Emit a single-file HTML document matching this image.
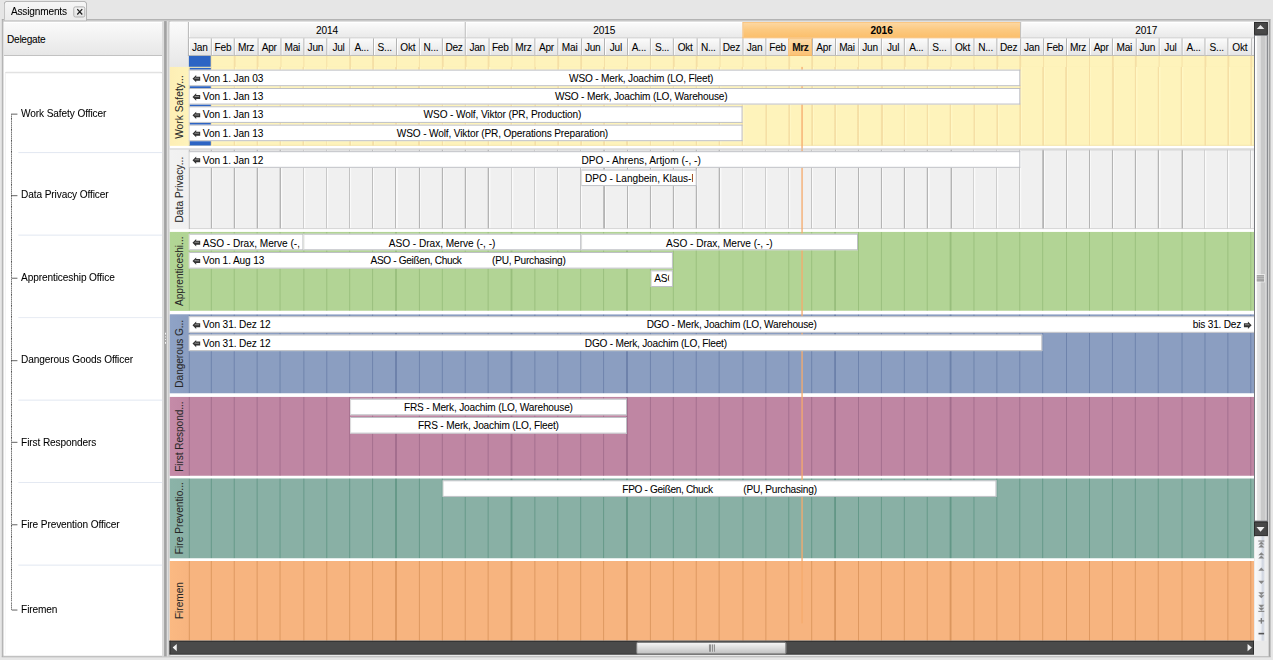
<!DOCTYPE html>
<html><head><meta charset="utf-8"><title>Assignments</title>
<style>
html,body{margin:0;padding:0}
body{width:1273px;height:660px;overflow:hidden;position:relative;background:#e6e6e6;font-family:"Liberation Sans",sans-serif;font-size:10.1px;color:#000;-webkit-text-stroke:0.1px rgba(0,0,0,.5);letter-spacing:-0.158px}
div,span{box-sizing:border-box}
#root{position:absolute;left:0;top:0;width:1273px;height:660px;zoom:1.0909091;transform:scale(.9166667);transform-origin:0 0}
.abs{position:absolute}
#tab{position:absolute;left:4px;top:1px;width:83.3px;height:20px;border:1px solid #a9a9a9;border-bottom:none;border-radius:4px 4px 0 0;background:linear-gradient(#f6f6f6,#ebebeb)}
#tab .t{position:absolute;left:6px;top:3px;line-height:13px;letter-spacing:-0.159px}
#tab .x{position:absolute;left:68px;top:4.3px;width:12.6px;height:10.8px;border:1px solid #aaa;border-radius:2px;background:linear-gradient(#f4f4f4,#e2e2e2)}
#panel{position:absolute;left:2px;top:19px;width:1268.1px;height:638px;border:1px solid #a3a3a3;border-right:1.9px solid #a4a4a4;border-bottom:1.8px solid #adadad;background:#e9e9e9;box-shadow:inset 1px 1px 0 #c6c6c6}
#left{position:absolute;left:4px;top:22px;width:158px;height:633px;background:#fff}
#lhead{position:absolute;left:0;top:0;width:158px;height:34px;background:linear-gradient(#fafafa,#e7e7e7);border-bottom:1px solid #bdbdbd;border-top:1px solid #fff}
#lhead span{position:absolute;left:3px;top:10px;line-height:13px;letter-spacing:-0.25px}
#tree{position:absolute;left:0.5px;top:49.6px;width:157.5px;height:583px;border-top:1.6px solid #c9c9c9;border-left:1px solid #e4e4e4;border-radius:2px 2px 0 0;box-shadow:inset 0 1px 0 #f0f0f0}
.ti{position:absolute;left:15.7px;line-height:13px;white-space:nowrap;letter-spacing:-0.1px}
.tsep{position:absolute;left:13px;width:144px;height:1px;background:#dfe5f0}
.tick{position:absolute;left:6.2px;width:6.2px;height:0.92px;background:#555}
#split{position:absolute;left:162px;top:21px;width:8px;height:635px;background:#dcdcdc}
#split i{position:absolute;top:0;height:100%;display:block}
.sd{position:absolute;left:2.75px;width:1.4px;height:1.3px;background:#fff;z-index:2}
#gantt{position:absolute;left:170px;top:22px;width:1084px;height:619px;background:#fff;overflow:hidden}
.hd{position:absolute;background:linear-gradient(#fbfbfb,#e6e6e6)}
.yr{position:absolute;top:0;height:16.5px;line-height:17.6px;text-align:center;border-left:1px solid #b2b2b2;border-bottom:1px solid #b9b9b9;background:linear-gradient(#fcfcfc,#e9e9e9);box-shadow:inset 1px 1px 0 #fff}
.yr.cur{background:linear-gradient(#fdd9a6,#fcc980 50%,#fbbf6c);border-left:1px solid #f3ae55;border-bottom:1px solid #f2aa4c;font-weight:bold;box-shadow:inset 0 1px 0 #fbc783;letter-spacing:0}
.mo{position:absolute;top:16.5px;height:17.3px;line-height:19px;text-align:center;letter-spacing:-0.228px;border-left:1px solid #adadad;border-bottom:1px solid #b4b4b4;background:linear-gradient(#fbfbfb,#e5e5e5);box-shadow:inset 1px 0 0 #fff;overflow:hidden;white-space:nowrap}
.mo.cur{background:linear-gradient(#fddaa6,#fbc274);border:1px solid #f3ad52;border-top-color:#f8be70;box-shadow:none;line-height:17px;font-weight:bold;letter-spacing:-0.45px;color:#111}
.sec{position:absolute;left:0;width:1084px;overflow:hidden}
.lab{position:absolute;left:0;top:0;width:19.5px;height:100%;overflow:hidden;display:flex;align-items:center;justify-content:center}
.lab span{writing-mode:vertical-rl;transform:rotate(180deg);white-space:nowrap;line-height:13px;display:block;margin-left:1px}
.gl{position:absolute;top:0;width:1px;height:100%}
.bar{position:absolute;background:#fff;border:1px solid #b9bbc0;border-left-color:#d9d9d9;padding-top:1.8px;display:flex;align-items:center;overflow:hidden;white-space:nowrap;line-height:14px}
.bar .l{flex:none;padding-left:1.8px;display:flex;align-items:center;letter-spacing:-0.098px}
.bar .r{flex:none;padding-right:3px;letter-spacing:-0.2px;display:flex;align-items:center}
.bar .c{flex:1 1 0;text-align:center;overflow:hidden;min-width:0}
.bar .c.left{text-align:left;padding-left:3px;margin-right:2.5px}
.ar{flex:none;margin:0 2px 0 1px;display:block}
.r .ar{margin:0 0 0 3px}
.gp{display:inline-block;width:30.5px}
#today{position:absolute;left:631.6px;top:45px;width:1.1px;height:556px;background:rgba(245,170,108,.72)}
#hs{position:absolute;left:170px;top:640.8px;width:1084px;height:13.5px;background:#4a4a4a;border:1px solid #2c2c2c;border-bottom-color:#3a3a3a}
#hthumb{position:absolute;left:636.5px;top:641.3px;width:150.2px;height:13px;border:1px solid #8a8a8a;border-radius:2px;background:linear-gradient(#f6f6f6,#dcdcdc 50%,#c2c2c2)}
#vs{position:absolute;left:1254.3px;top:22px;width:13.2px;height:514px;background:#d8d8d8}
.vbtn{position:absolute;left:0;width:13.2px;background:#484848;border:1px solid #2b2b2b}
#vthumb{position:absolute;left:-0.3px;top:12.5px;width:13.8px;height:487.5px;border:1.4px solid #6e7076;border-left-width:1.7px;border-top-width:1px;border-bottom-width:1px;background:linear-gradient(90deg,#fff 0,#fff 12%,#e6e6e6 18%,#e0e0e0 45%,#c9c9c9 55%,#c9c9c9 82%,#dcdcdc 92%)}
#vgrip{position:absolute;left:2.2px;top:239.6px;width:7.2px;height:6px;background:repeating-linear-gradient(#a6a6a6 0,#a6a6a6 0.917px,#b9b9b9 0.917px,#b9b9b9 1.833px);border-bottom:1px solid #858585;box-shadow:0 0 0 1px rgba(255,255,255,.55)}
#tools{position:absolute;left:1254.5px;top:536px;width:13.2px;height:104.5px;background:linear-gradient(90deg,#fafafa,#eef0f4 45%,#cdd3df 62%,#f0f0f0 80%,#e9e9e9)}
</style></head><body>

<div id="root">
<div id="panel"></div>
<div id="tab"><span class="t">Assignments</span><span class="x"><svg width="11" height="9" viewBox="0 0 11 9" style="position:absolute;left:0;top:0"><path d="M3 1.8 L8 7.2 M8 1.8 L3 7.2" stroke="#222" stroke-width="1.25" fill="none"/></svg></span></div>
<div class="abs" style="left:5px;top:19px;width:81.4px;height:0.92px;background:#ebebeb"></div><div class="abs" style="left:5px;top:19.9px;width:81.4px;height:1.9px;background:linear-gradient(#c4c4c4,#dedede)"></div>
<div id="left"><div id="lhead"><span>Delegate</span></div><div id="tree">
<div class="ti" style="top:34.5px">Work Safety Officer</div>
<div class="tick" style="top:41.5px"></div>
<div class="ti" style="top:115.5px">Data Privacy Officer</div>
<div class="tick" style="top:122.5px"></div>
<div class="ti" style="top:198.0px">Apprenticeship Office</div>
<div class="tick" style="top:205.0px"></div>
<div class="ti" style="top:280.3px">Dangerous Goods Officer</div>
<div class="tick" style="top:287.3px"></div>
<div class="ti" style="top:362.6px">First Responders</div>
<div class="tick" style="top:369.6px"></div>
<div class="ti" style="top:445.0px">Fire Prevention Officer</div>
<div class="tick" style="top:452.0px"></div>
<div class="ti" style="top:530.5px">Firemen</div>
<div class="tick" style="top:537.5px"></div>
<div class="tsep" style="top:80.0px"></div>
<div class="tsep" style="top:162.3px"></div>
<div class="tsep" style="top:244.7px"></div>
<div class="tsep" style="top:327.1px"></div>
<div class="tsep" style="top:409.5px"></div>
<div class="tsep" style="top:491.9px"></div>
<div class="abs" style="left:5.7px;top:41.5px;width:0.92px;height:496.6px;background:repeating-linear-gradient(#444 0,#444 0.917px,rgba(0,0,0,0.15) 0.917px,rgba(0,0,0,0.15) 1.833px)"></div>
</div></div>
<div id="split"><i style="left:0;width:1.5px;background:#dadada"></i><i style="left:1.8px;width:3.2px;background:#a2a2a2"></i><i style="left:4.8px;width:1.8px;background:#dedede"></i><i style="left:6.5px;width:1.3px;background:#a9a9a9"></i><i style="left:7.7px;width:0.3px;background:#d0d0d0"></i><div class="sd" style="top:312.0px"></div><div class="sd" style="top:315.0px"></div><div class="sd" style="top:318.0px"></div><div class="sd" style="top:321.1px"></div></div>
<div id="gantt">
<div class="hd" style="left:0;top:0;width:19.2px;height:45.5px;border-radius:4px 0 0 0"></div>
<div class="yr" style="left:17.85px;width:277.32px">2014</div>
<div class="yr" style="left:295.17px;width:277.32px">2015</div>
<div class="yr cur" style="left:572.49px;width:277.32px">2016</div>
<div class="yr" style="left:849.81px;width:234.19px"><span style="position:absolute;left:105.5px;width:40px;text-align:center">2017</span></div>
<div class="mo" style="left:17.85px;width:23.11px">Jan</div>
<div class="mo" style="left:40.96px;width:23.11px">Feb</div>
<div class="mo" style="left:64.07px;width:23.11px">Mrz</div>
<div class="mo" style="left:87.18px;width:23.11px">Apr</div>
<div class="mo" style="left:110.29px;width:23.11px">Mai</div>
<div class="mo" style="left:133.40px;width:23.11px">Jun</div>
<div class="mo" style="left:156.51px;width:23.11px">Jul</div>
<div class="mo" style="left:179.62px;width:23.11px">A...</div>
<div class="mo" style="left:202.73px;width:23.11px">S...</div>
<div class="mo" style="left:225.84px;width:23.11px">Okt</div>
<div class="mo" style="left:248.95px;width:23.11px">N...</div>
<div class="mo" style="left:272.06px;width:23.11px">Dez</div>
<div class="mo" style="left:295.17px;width:23.11px">Jan</div>
<div class="mo" style="left:318.28px;width:23.11px">Feb</div>
<div class="mo" style="left:341.39px;width:23.11px">Mrz</div>
<div class="mo" style="left:364.50px;width:23.11px">Apr</div>
<div class="mo" style="left:387.61px;width:23.11px">Mai</div>
<div class="mo" style="left:410.72px;width:23.11px">Jun</div>
<div class="mo" style="left:433.83px;width:23.11px">Jul</div>
<div class="mo" style="left:456.94px;width:23.11px">A...</div>
<div class="mo" style="left:480.05px;width:23.11px">S...</div>
<div class="mo" style="left:503.16px;width:23.11px">Okt</div>
<div class="mo" style="left:526.27px;width:23.11px">N...</div>
<div class="mo" style="left:549.38px;width:23.11px">Dez</div>
<div class="mo" style="left:572.49px;width:23.11px">Jan</div>
<div class="mo" style="left:595.60px;width:23.11px">Feb</div>
<div class="mo cur" style="left:618.71px;width:23.11px">Mrz</div>
<div class="mo" style="left:641.82px;width:23.11px">Apr</div>
<div class="mo" style="left:664.93px;width:23.11px">Mai</div>
<div class="mo" style="left:688.04px;width:23.11px">Jun</div>
<div class="mo" style="left:711.15px;width:23.11px">Jul</div>
<div class="mo" style="left:734.26px;width:23.11px">A...</div>
<div class="mo" style="left:757.37px;width:23.11px">S...</div>
<div class="mo" style="left:780.48px;width:23.11px">Okt</div>
<div class="mo" style="left:803.59px;width:23.11px">N...</div>
<div class="mo" style="left:826.70px;width:23.11px">Dez</div>
<div class="mo" style="left:849.81px;width:23.11px">Jan</div>
<div class="mo" style="left:872.92px;width:23.11px">Feb</div>
<div class="mo" style="left:896.03px;width:23.11px">Mrz</div>
<div class="mo" style="left:919.14px;width:23.11px">Apr</div>
<div class="mo" style="left:942.25px;width:23.11px">Mai</div>
<div class="mo" style="left:965.36px;width:23.11px">Jun</div>
<div class="mo" style="left:988.47px;width:23.11px">Jul</div>
<div class="mo" style="left:1011.58px;width:23.11px">A...</div>
<div class="mo" style="left:1034.69px;width:23.11px">S...</div>
<div class="mo" style="left:1057.80px;width:23.11px">Okt</div>
<div class="mo" style="left:1080.91px;width:3.09px"></div>
<div class="abs" style="left:19.2px;top:33.8px;width:1065px;height:13.8px;background:#fef3bb"></div>
<div class="abs" style="left:19.2px;top:33.8px;width:21.71px;height:11.2px;background:#2c64c4"></div>
<div class="gl" style="left:40.76px;width:1.4px;top:33.8px;height:13.5px;background:#f5dfa5"></div>
<div class="gl" style="left:63.87px;width:1.4px;top:33.8px;height:13.5px;background:#f5dfa5"></div>
<div class="gl" style="left:86.98px;width:1.4px;top:33.8px;height:13.5px;background:#f5dfa5"></div>
<div class="gl" style="left:110.09px;width:1.4px;top:33.8px;height:13.5px;background:#f5dfa5"></div>
<div class="gl" style="left:133.20px;width:1.4px;top:33.8px;height:13.5px;background:#f5dfa5"></div>
<div class="gl" style="left:156.31px;width:1.4px;top:33.8px;height:13.5px;background:#f5dfa5"></div>
<div class="gl" style="left:179.42px;width:1.4px;top:33.8px;height:13.5px;background:#f5dfa5"></div>
<div class="gl" style="left:202.53px;width:1.4px;top:33.8px;height:13.5px;background:#f5dfa5"></div>
<div class="gl" style="left:225.64px;width:1.4px;top:33.8px;height:13.5px;background:#f5dfa5"></div>
<div class="gl" style="left:248.75px;width:1.4px;top:33.8px;height:13.5px;background:#f5dfa5"></div>
<div class="gl" style="left:271.86px;width:1.4px;top:33.8px;height:13.5px;background:#f5dfa5"></div>
<div class="gl" style="left:294.97px;width:1.4px;top:33.8px;height:13.5px;background:#f5dfa5"></div>
<div class="gl" style="left:318.08px;width:1.4px;top:33.8px;height:13.5px;background:#f5dfa5"></div>
<div class="gl" style="left:341.19px;width:1.4px;top:33.8px;height:13.5px;background:#f5dfa5"></div>
<div class="gl" style="left:364.30px;width:1.4px;top:33.8px;height:13.5px;background:#f5dfa5"></div>
<div class="gl" style="left:387.41px;width:1.4px;top:33.8px;height:13.5px;background:#f5dfa5"></div>
<div class="gl" style="left:410.52px;width:1.4px;top:33.8px;height:13.5px;background:#f5dfa5"></div>
<div class="gl" style="left:433.63px;width:1.4px;top:33.8px;height:13.5px;background:#f5dfa5"></div>
<div class="gl" style="left:456.74px;width:1.4px;top:33.8px;height:13.5px;background:#f5dfa5"></div>
<div class="gl" style="left:479.85px;width:1.4px;top:33.8px;height:13.5px;background:#f5dfa5"></div>
<div class="gl" style="left:502.96px;width:1.4px;top:33.8px;height:13.5px;background:#f5dfa5"></div>
<div class="gl" style="left:526.07px;width:1.4px;top:33.8px;height:13.5px;background:#f5dfa5"></div>
<div class="gl" style="left:549.18px;width:1.4px;top:33.8px;height:13.5px;background:#f5dfa5"></div>
<div class="gl" style="left:572.29px;width:1.4px;top:33.8px;height:13.5px;background:#f5dfa5"></div>
<div class="gl" style="left:595.40px;width:1.4px;top:33.8px;height:13.5px;background:#f5dfa5"></div>
<div class="gl" style="left:618.51px;width:1.4px;top:33.8px;height:13.5px;background:#f5dfa5"></div>
<div class="gl" style="left:641.62px;width:1.4px;top:33.8px;height:13.5px;background:#f5dfa5"></div>
<div class="gl" style="left:664.73px;width:1.4px;top:33.8px;height:13.5px;background:#f5dfa5"></div>
<div class="gl" style="left:687.84px;width:1.4px;top:33.8px;height:13.5px;background:#f5dfa5"></div>
<div class="gl" style="left:710.95px;width:1.4px;top:33.8px;height:13.5px;background:#f5dfa5"></div>
<div class="gl" style="left:734.06px;width:1.4px;top:33.8px;height:13.5px;background:#f5dfa5"></div>
<div class="gl" style="left:757.17px;width:1.4px;top:33.8px;height:13.5px;background:#f5dfa5"></div>
<div class="gl" style="left:780.28px;width:1.4px;top:33.8px;height:13.5px;background:#f5dfa5"></div>
<div class="gl" style="left:803.39px;width:1.4px;top:33.8px;height:13.5px;background:#f5dfa5"></div>
<div class="gl" style="left:826.50px;width:1.4px;top:33.8px;height:13.5px;background:#f5dfa5"></div>
<div class="gl" style="left:849.61px;width:1.4px;top:33.8px;height:13.5px;background:#f5dfa5"></div>
<div class="gl" style="left:872.72px;width:1.4px;top:33.8px;height:13.5px;background:#f5dfa5"></div>
<div class="gl" style="left:895.83px;width:1.4px;top:33.8px;height:13.5px;background:#f5dfa5"></div>
<div class="gl" style="left:918.94px;width:1.4px;top:33.8px;height:13.5px;background:#f5dfa5"></div>
<div class="gl" style="left:942.05px;width:1.4px;top:33.8px;height:13.5px;background:#f5dfa5"></div>
<div class="gl" style="left:965.16px;width:1.4px;top:33.8px;height:13.5px;background:#f5dfa5"></div>
<div class="gl" style="left:988.27px;width:1.4px;top:33.8px;height:13.5px;background:#f5dfa5"></div>
<div class="gl" style="left:1011.38px;width:1.4px;top:33.8px;height:13.5px;background:#f5dfa5"></div>
<div class="gl" style="left:1034.49px;width:1.4px;top:33.8px;height:13.5px;background:#f5dfa5"></div>
<div class="gl" style="left:1057.60px;width:1.4px;top:33.8px;height:13.5px;background:#f5dfa5"></div>
<div class="gl" style="left:1080.71px;width:1.4px;top:33.8px;height:13.5px;background:#f5dfa5"></div>
<div class="abs" style="left:19.2px;top:44.9px;width:1065px;height:1px;background:#f3dfa6"></div>
<div class="sec" style="top:45.3px;height:78.7px;background:#fef3bb">
<div class="gl" style="left:40.46px;width:2.6px;background:linear-gradient(90deg,#f5dfa5 60%,#fff7c4 60%)"></div>
<div class="gl" style="left:63.57px;width:2.6px;background:linear-gradient(90deg,#f5dfa5 60%,#fff7c4 60%)"></div>
<div class="gl" style="left:86.68px;width:2.6px;background:linear-gradient(90deg,#f5dfa5 60%,#fff7c4 60%)"></div>
<div class="gl" style="left:109.79px;width:2.6px;background:linear-gradient(90deg,#f5dfa5 60%,#fff7c4 60%)"></div>
<div class="gl" style="left:132.90px;width:2.6px;background:linear-gradient(90deg,#f5dfa5 60%,#fff7c4 60%)"></div>
<div class="gl" style="left:156.01px;width:2.6px;background:linear-gradient(90deg,#f5dfa5 60%,#fff7c4 60%)"></div>
<div class="gl" style="left:179.12px;width:2.6px;background:linear-gradient(90deg,#f5dfa5 60%,#fff7c4 60%)"></div>
<div class="gl" style="left:202.23px;width:2.6px;background:linear-gradient(90deg,#f5dfa5 60%,#fff7c4 60%)"></div>
<div class="gl" style="left:225.34px;width:2.6px;background:linear-gradient(90deg,#f5dfa5 60%,#fff7c4 60%)"></div>
<div class="gl" style="left:248.45px;width:2.6px;background:linear-gradient(90deg,#f5dfa5 60%,#fff7c4 60%)"></div>
<div class="gl" style="left:271.56px;width:2.6px;background:linear-gradient(90deg,#f5dfa5 60%,#fff7c4 60%)"></div>
<div class="gl" style="left:294.67px;width:2.6px;background:linear-gradient(90deg,#f5dfa5 60%,#fff7c4 60%)"></div>
<div class="gl" style="left:317.78px;width:2.6px;background:linear-gradient(90deg,#f5dfa5 60%,#fff7c4 60%)"></div>
<div class="gl" style="left:340.89px;width:2.6px;background:linear-gradient(90deg,#f5dfa5 60%,#fff7c4 60%)"></div>
<div class="gl" style="left:364.00px;width:2.6px;background:linear-gradient(90deg,#f5dfa5 60%,#fff7c4 60%)"></div>
<div class="gl" style="left:387.11px;width:2.6px;background:linear-gradient(90deg,#f5dfa5 60%,#fff7c4 60%)"></div>
<div class="gl" style="left:410.22px;width:2.6px;background:linear-gradient(90deg,#f5dfa5 60%,#fff7c4 60%)"></div>
<div class="gl" style="left:433.33px;width:2.6px;background:linear-gradient(90deg,#f5dfa5 60%,#fff7c4 60%)"></div>
<div class="gl" style="left:456.44px;width:2.6px;background:linear-gradient(90deg,#f5dfa5 60%,#fff7c4 60%)"></div>
<div class="gl" style="left:479.55px;width:2.6px;background:linear-gradient(90deg,#f5dfa5 60%,#fff7c4 60%)"></div>
<div class="gl" style="left:502.66px;width:2.6px;background:linear-gradient(90deg,#f5dfa5 60%,#fff7c4 60%)"></div>
<div class="gl" style="left:525.77px;width:2.6px;background:linear-gradient(90deg,#f5dfa5 60%,#fff7c4 60%)"></div>
<div class="gl" style="left:548.88px;width:2.6px;background:linear-gradient(90deg,#f5dfa5 60%,#fff7c4 60%)"></div>
<div class="gl" style="left:571.99px;width:2.6px;background:linear-gradient(90deg,#f5dfa5 60%,#fff7c4 60%)"></div>
<div class="gl" style="left:595.10px;width:2.6px;background:linear-gradient(90deg,#f5dfa5 60%,#fff7c4 60%)"></div>
<div class="gl" style="left:618.21px;width:2.6px;background:linear-gradient(90deg,#f5dfa5 60%,#fff7c4 60%)"></div>
<div class="gl" style="left:641.32px;width:2.6px;background:linear-gradient(90deg,#f5dfa5 60%,#fff7c4 60%)"></div>
<div class="gl" style="left:664.43px;width:2.6px;background:linear-gradient(90deg,#f5dfa5 60%,#fff7c4 60%)"></div>
<div class="gl" style="left:687.54px;width:2.6px;background:linear-gradient(90deg,#f5dfa5 60%,#fff7c4 60%)"></div>
<div class="gl" style="left:710.65px;width:2.6px;background:linear-gradient(90deg,#f5dfa5 60%,#fff7c4 60%)"></div>
<div class="gl" style="left:733.76px;width:2.6px;background:linear-gradient(90deg,#f5dfa5 60%,#fff7c4 60%)"></div>
<div class="gl" style="left:756.87px;width:2.6px;background:linear-gradient(90deg,#f5dfa5 60%,#fff7c4 60%)"></div>
<div class="gl" style="left:779.98px;width:2.6px;background:linear-gradient(90deg,#f5dfa5 60%,#fff7c4 60%)"></div>
<div class="gl" style="left:803.09px;width:2.6px;background:linear-gradient(90deg,#f5dfa5 60%,#fff7c4 60%)"></div>
<div class="gl" style="left:826.20px;width:2.6px;background:linear-gradient(90deg,#f5dfa5 60%,#fff7c4 60%)"></div>
<div class="gl" style="left:849.31px;width:2.6px;background:linear-gradient(90deg,#f5dfa5 60%,#fff7c4 60%)"></div>
<div class="gl" style="left:872.42px;width:2.6px;background:linear-gradient(90deg,#f5dfa5 60%,#fff7c4 60%)"></div>
<div class="gl" style="left:895.53px;width:2.6px;background:linear-gradient(90deg,#f5dfa5 60%,#fff7c4 60%)"></div>
<div class="gl" style="left:918.64px;width:2.6px;background:linear-gradient(90deg,#f5dfa5 60%,#fff7c4 60%)"></div>
<div class="gl" style="left:941.75px;width:2.6px;background:linear-gradient(90deg,#f5dfa5 60%,#fff7c4 60%)"></div>
<div class="gl" style="left:964.86px;width:2.6px;background:linear-gradient(90deg,#f5dfa5 60%,#fff7c4 60%)"></div>
<div class="gl" style="left:987.97px;width:2.6px;background:linear-gradient(90deg,#f5dfa5 60%,#fff7c4 60%)"></div>
<div class="gl" style="left:1011.08px;width:2.6px;background:linear-gradient(90deg,#f5dfa5 60%,#fff7c4 60%)"></div>
<div class="gl" style="left:1034.19px;width:2.6px;background:linear-gradient(90deg,#f5dfa5 60%,#fff7c4 60%)"></div>
<div class="gl" style="left:1057.30px;width:2.6px;background:linear-gradient(90deg,#f5dfa5 60%,#fff7c4 60%)"></div>
<div class="gl" style="left:1080.41px;width:2.6px;background:linear-gradient(90deg,#f5dfa5 60%,#fff7c4 60%)"></div>
<div class="abs" style="left:19.2px;top:0.6px;width:21.71px;height:77.9px;background:#2c64c4"></div>
<div class="abs" style="left:42.3px;bottom:0;width:1065px;height:0.9px;background:#f0dfa8"></div>
<div class="lab" style="background:linear-gradient(90deg,#fdeeb5,#fef3bb);border-right:1px solid #f5dfa5"><span style="color:#2b2b2b;letter-spacing:0.09px">Work Safety...</span></div>
</div>
<div class="sec" style="top:127.3px;height:79.9px;background:#f0f0f0">
<div class="gl" style="left:40.66px;width:2px;background:linear-gradient(90deg,#b4b4b4 50%,#fafafa 50%)"></div>
<div class="gl" style="left:63.77px;width:2px;background:linear-gradient(90deg,#b4b4b4 50%,#fafafa 50%)"></div>
<div class="gl" style="left:86.88px;width:2px;background:linear-gradient(90deg,#b4b4b4 50%,#fafafa 50%)"></div>
<div class="gl" style="left:109.99px;width:2px;background:linear-gradient(90deg,#b4b4b4 50%,#fafafa 50%)"></div>
<div class="gl" style="left:133.10px;width:2px;background:linear-gradient(90deg,#b4b4b4 50%,#fafafa 50%)"></div>
<div class="gl" style="left:156.21px;width:2px;background:linear-gradient(90deg,#b4b4b4 50%,#fafafa 50%)"></div>
<div class="gl" style="left:179.32px;width:2px;background:linear-gradient(90deg,#b4b4b4 50%,#fafafa 50%)"></div>
<div class="gl" style="left:202.43px;width:2px;background:linear-gradient(90deg,#b4b4b4 50%,#fafafa 50%)"></div>
<div class="gl" style="left:225.54px;width:2px;background:linear-gradient(90deg,#b4b4b4 50%,#fafafa 50%)"></div>
<div class="gl" style="left:248.65px;width:2px;background:linear-gradient(90deg,#b4b4b4 50%,#fafafa 50%)"></div>
<div class="gl" style="left:271.76px;width:2px;background:linear-gradient(90deg,#b4b4b4 50%,#fafafa 50%)"></div>
<div class="gl" style="left:294.87px;width:2px;background:linear-gradient(90deg,#b4b4b4 50%,#fafafa 50%)"></div>
<div class="gl" style="left:317.98px;width:2px;background:linear-gradient(90deg,#b4b4b4 50%,#fafafa 50%)"></div>
<div class="gl" style="left:341.09px;width:2px;background:linear-gradient(90deg,#b4b4b4 50%,#fafafa 50%)"></div>
<div class="gl" style="left:364.20px;width:2px;background:linear-gradient(90deg,#b4b4b4 50%,#fafafa 50%)"></div>
<div class="gl" style="left:387.31px;width:2px;background:linear-gradient(90deg,#b4b4b4 50%,#fafafa 50%)"></div>
<div class="gl" style="left:410.42px;width:2px;background:linear-gradient(90deg,#b4b4b4 50%,#fafafa 50%)"></div>
<div class="gl" style="left:433.53px;width:2px;background:linear-gradient(90deg,#b4b4b4 50%,#fafafa 50%)"></div>
<div class="gl" style="left:456.64px;width:2px;background:linear-gradient(90deg,#b4b4b4 50%,#fafafa 50%)"></div>
<div class="gl" style="left:479.75px;width:2px;background:linear-gradient(90deg,#b4b4b4 50%,#fafafa 50%)"></div>
<div class="gl" style="left:502.86px;width:2px;background:linear-gradient(90deg,#b4b4b4 50%,#fafafa 50%)"></div>
<div class="gl" style="left:525.97px;width:2px;background:linear-gradient(90deg,#b4b4b4 50%,#fafafa 50%)"></div>
<div class="gl" style="left:549.08px;width:2px;background:linear-gradient(90deg,#b4b4b4 50%,#fafafa 50%)"></div>
<div class="gl" style="left:572.19px;width:2px;background:linear-gradient(90deg,#b4b4b4 50%,#fafafa 50%)"></div>
<div class="gl" style="left:595.30px;width:2px;background:linear-gradient(90deg,#b4b4b4 50%,#fafafa 50%)"></div>
<div class="gl" style="left:618.41px;width:2px;background:linear-gradient(90deg,#b4b4b4 50%,#fafafa 50%)"></div>
<div class="gl" style="left:641.52px;width:2px;background:linear-gradient(90deg,#b4b4b4 50%,#fafafa 50%)"></div>
<div class="gl" style="left:664.63px;width:2px;background:linear-gradient(90deg,#b4b4b4 50%,#fafafa 50%)"></div>
<div class="gl" style="left:687.74px;width:2px;background:linear-gradient(90deg,#b4b4b4 50%,#fafafa 50%)"></div>
<div class="gl" style="left:710.85px;width:2px;background:linear-gradient(90deg,#b4b4b4 50%,#fafafa 50%)"></div>
<div class="gl" style="left:733.96px;width:2px;background:linear-gradient(90deg,#b4b4b4 50%,#fafafa 50%)"></div>
<div class="gl" style="left:757.07px;width:2px;background:linear-gradient(90deg,#b4b4b4 50%,#fafafa 50%)"></div>
<div class="gl" style="left:780.18px;width:2px;background:linear-gradient(90deg,#b4b4b4 50%,#fafafa 50%)"></div>
<div class="gl" style="left:803.29px;width:2px;background:linear-gradient(90deg,#b4b4b4 50%,#fafafa 50%)"></div>
<div class="gl" style="left:826.40px;width:2px;background:linear-gradient(90deg,#b4b4b4 50%,#fafafa 50%)"></div>
<div class="gl" style="left:849.51px;width:2px;background:linear-gradient(90deg,#b4b4b4 50%,#fafafa 50%)"></div>
<div class="gl" style="left:872.62px;width:2px;background:linear-gradient(90deg,#b4b4b4 50%,#fafafa 50%)"></div>
<div class="gl" style="left:895.73px;width:2px;background:linear-gradient(90deg,#b4b4b4 50%,#fafafa 50%)"></div>
<div class="gl" style="left:918.84px;width:2px;background:linear-gradient(90deg,#b4b4b4 50%,#fafafa 50%)"></div>
<div class="gl" style="left:941.95px;width:2px;background:linear-gradient(90deg,#b4b4b4 50%,#fafafa 50%)"></div>
<div class="gl" style="left:965.06px;width:2px;background:linear-gradient(90deg,#b4b4b4 50%,#fafafa 50%)"></div>
<div class="gl" style="left:988.17px;width:2px;background:linear-gradient(90deg,#b4b4b4 50%,#fafafa 50%)"></div>
<div class="gl" style="left:1011.28px;width:2px;background:linear-gradient(90deg,#b4b4b4 50%,#fafafa 50%)"></div>
<div class="gl" style="left:1034.39px;width:2px;background:linear-gradient(90deg,#b4b4b4 50%,#fafafa 50%)"></div>
<div class="gl" style="left:1057.50px;width:2px;background:linear-gradient(90deg,#b4b4b4 50%,#fafafa 50%)"></div>
<div class="gl" style="left:1080.61px;width:2px;background:linear-gradient(90deg,#b4b4b4 50%,#fafafa 50%)"></div>
<div class="abs" style="left:19.2px;top:0;width:1065px;height:1px;background:#c9c9c9"></div>
<div class="abs" style="left:0;bottom:0;width:1084px;height:1px;background:#cfcfcf"></div>
<div class="lab" style="background:linear-gradient(90deg,#f2f2f2,#f0f0f0);border-right:1px solid #b4b4b4"><span style="color:#2b2b2b;letter-spacing:0.061px">Data Privacy...</span></div>
</div>
<div class="sec" style="top:209.5px;height:79.2px;background:#b2d495">
<div class="gl" style="left:40.56px;width:1.05px;background:#98be7c"></div>
<div class="gl" style="left:63.67px;width:1.05px;background:#98be7c"></div>
<div class="gl" style="left:86.78px;width:1.05px;background:#98be7c"></div>
<div class="gl" style="left:109.89px;width:1.05px;background:#98be7c"></div>
<div class="gl" style="left:133.00px;width:1.05px;background:#98be7c"></div>
<div class="gl" style="left:156.11px;width:1.05px;background:#98be7c"></div>
<div class="gl" style="left:179.22px;width:1.05px;background:#98be7c"></div>
<div class="gl" style="left:202.33px;width:1.05px;background:#98be7c"></div>
<div class="gl" style="left:225.44px;width:1.05px;background:#98be7c"></div>
<div class="gl" style="left:248.55px;width:1.05px;background:#98be7c"></div>
<div class="gl" style="left:271.66px;width:1.05px;background:#98be7c"></div>
<div class="gl" style="left:294.77px;width:1.05px;background:#98be7c"></div>
<div class="gl" style="left:317.88px;width:1.05px;background:#98be7c"></div>
<div class="gl" style="left:340.99px;width:1.05px;background:#98be7c"></div>
<div class="gl" style="left:364.10px;width:1.05px;background:#98be7c"></div>
<div class="gl" style="left:387.21px;width:1.05px;background:#98be7c"></div>
<div class="gl" style="left:410.32px;width:1.05px;background:#98be7c"></div>
<div class="gl" style="left:433.43px;width:1.05px;background:#98be7c"></div>
<div class="gl" style="left:456.54px;width:1.05px;background:#98be7c"></div>
<div class="gl" style="left:479.65px;width:1.05px;background:#98be7c"></div>
<div class="gl" style="left:502.76px;width:1.05px;background:#98be7c"></div>
<div class="gl" style="left:525.87px;width:1.05px;background:#98be7c"></div>
<div class="gl" style="left:548.98px;width:1.05px;background:#98be7c"></div>
<div class="gl" style="left:572.09px;width:1.05px;background:#98be7c"></div>
<div class="gl" style="left:595.20px;width:1.05px;background:#98be7c"></div>
<div class="gl" style="left:618.31px;width:1.05px;background:#98be7c"></div>
<div class="gl" style="left:641.42px;width:1.05px;background:#98be7c"></div>
<div class="gl" style="left:664.53px;width:1.05px;background:#98be7c"></div>
<div class="gl" style="left:687.64px;width:1.05px;background:#98be7c"></div>
<div class="gl" style="left:710.75px;width:1.05px;background:#98be7c"></div>
<div class="gl" style="left:733.86px;width:1.05px;background:#98be7c"></div>
<div class="gl" style="left:756.97px;width:1.05px;background:#98be7c"></div>
<div class="gl" style="left:780.08px;width:1.05px;background:#98be7c"></div>
<div class="gl" style="left:803.19px;width:1.05px;background:#98be7c"></div>
<div class="gl" style="left:826.30px;width:1.05px;background:#98be7c"></div>
<div class="gl" style="left:849.41px;width:1.05px;background:#98be7c"></div>
<div class="gl" style="left:872.52px;width:1.05px;background:#98be7c"></div>
<div class="gl" style="left:895.63px;width:1.05px;background:#98be7c"></div>
<div class="gl" style="left:918.74px;width:1.05px;background:#98be7c"></div>
<div class="gl" style="left:941.85px;width:1.05px;background:#98be7c"></div>
<div class="gl" style="left:964.96px;width:1.05px;background:#98be7c"></div>
<div class="gl" style="left:988.07px;width:1.05px;background:#98be7c"></div>
<div class="gl" style="left:1011.18px;width:1.05px;background:#98be7c"></div>
<div class="gl" style="left:1034.29px;width:1.05px;background:#98be7c"></div>
<div class="gl" style="left:1057.40px;width:1.05px;background:#98be7c"></div>
<div class="gl" style="left:1080.51px;width:1.05px;background:#98be7c"></div>
<div class="lab" style="background:linear-gradient(90deg,#b1d694,#b2d495);border-right:1px solid #98be7c"><span style="color:#2b2b2b;letter-spacing:0.001px">Apprenticeshi...</span></div>
</div>
<div class="sec" style="top:292.4px;height:78.8px;background:#8b9ec1">
<div class="gl" style="left:40.56px;width:1.05px;background:#6c81aa"></div>
<div class="gl" style="left:63.67px;width:1.05px;background:#6c81aa"></div>
<div class="gl" style="left:86.78px;width:1.05px;background:#6c81aa"></div>
<div class="gl" style="left:109.89px;width:1.05px;background:#6c81aa"></div>
<div class="gl" style="left:133.00px;width:1.05px;background:#6c81aa"></div>
<div class="gl" style="left:156.11px;width:1.05px;background:#6c81aa"></div>
<div class="gl" style="left:179.22px;width:1.05px;background:#6c81aa"></div>
<div class="gl" style="left:202.33px;width:1.05px;background:#6c81aa"></div>
<div class="gl" style="left:225.44px;width:1.05px;background:#6c81aa"></div>
<div class="gl" style="left:248.55px;width:1.05px;background:#6c81aa"></div>
<div class="gl" style="left:271.66px;width:1.05px;background:#6c81aa"></div>
<div class="gl" style="left:294.77px;width:1.05px;background:#6c81aa"></div>
<div class="gl" style="left:317.88px;width:1.05px;background:#6c81aa"></div>
<div class="gl" style="left:340.99px;width:1.05px;background:#6c81aa"></div>
<div class="gl" style="left:364.10px;width:1.05px;background:#6c81aa"></div>
<div class="gl" style="left:387.21px;width:1.05px;background:#6c81aa"></div>
<div class="gl" style="left:410.32px;width:1.05px;background:#6c81aa"></div>
<div class="gl" style="left:433.43px;width:1.05px;background:#6c81aa"></div>
<div class="gl" style="left:456.54px;width:1.05px;background:#6c81aa"></div>
<div class="gl" style="left:479.65px;width:1.05px;background:#6c81aa"></div>
<div class="gl" style="left:502.76px;width:1.05px;background:#6c81aa"></div>
<div class="gl" style="left:525.87px;width:1.05px;background:#6c81aa"></div>
<div class="gl" style="left:548.98px;width:1.05px;background:#6c81aa"></div>
<div class="gl" style="left:572.09px;width:1.05px;background:#6c81aa"></div>
<div class="gl" style="left:595.20px;width:1.05px;background:#6c81aa"></div>
<div class="gl" style="left:618.31px;width:1.05px;background:#6c81aa"></div>
<div class="gl" style="left:641.42px;width:1.05px;background:#6c81aa"></div>
<div class="gl" style="left:664.53px;width:1.05px;background:#6c81aa"></div>
<div class="gl" style="left:687.64px;width:1.05px;background:#6c81aa"></div>
<div class="gl" style="left:710.75px;width:1.05px;background:#6c81aa"></div>
<div class="gl" style="left:733.86px;width:1.05px;background:#6c81aa"></div>
<div class="gl" style="left:756.97px;width:1.05px;background:#6c81aa"></div>
<div class="gl" style="left:780.08px;width:1.05px;background:#6c81aa"></div>
<div class="gl" style="left:803.19px;width:1.05px;background:#6c81aa"></div>
<div class="gl" style="left:826.30px;width:1.05px;background:#6c81aa"></div>
<div class="gl" style="left:849.41px;width:1.05px;background:#6c81aa"></div>
<div class="gl" style="left:872.52px;width:1.05px;background:#6c81aa"></div>
<div class="gl" style="left:895.63px;width:1.05px;background:#6c81aa"></div>
<div class="gl" style="left:918.74px;width:1.05px;background:#6c81aa"></div>
<div class="gl" style="left:941.85px;width:1.05px;background:#6c81aa"></div>
<div class="gl" style="left:964.96px;width:1.05px;background:#6c81aa"></div>
<div class="gl" style="left:988.07px;width:1.05px;background:#6c81aa"></div>
<div class="gl" style="left:1011.18px;width:1.05px;background:#6c81aa"></div>
<div class="gl" style="left:1034.29px;width:1.05px;background:#6c81aa"></div>
<div class="gl" style="left:1057.40px;width:1.05px;background:#6c81aa"></div>
<div class="gl" style="left:1080.51px;width:1.05px;background:#6c81aa"></div>
<div class="lab" style="background:linear-gradient(90deg,#8fa3c6,#8b9ec1);border-right:1px solid #6c81aa"><span style="color:#2b2b2b;letter-spacing:-0.047px">Dangerous G...</span></div>
</div>
<div class="sec" style="top:374.9px;height:78.7px;background:#bf86a3">
<div class="gl" style="left:40.56px;width:1.05px;background:#a26d8c"></div>
<div class="gl" style="left:63.67px;width:1.05px;background:#a26d8c"></div>
<div class="gl" style="left:86.78px;width:1.05px;background:#a26d8c"></div>
<div class="gl" style="left:109.89px;width:1.05px;background:#a26d8c"></div>
<div class="gl" style="left:133.00px;width:1.05px;background:#a26d8c"></div>
<div class="gl" style="left:156.11px;width:1.05px;background:#a26d8c"></div>
<div class="gl" style="left:179.22px;width:1.05px;background:#a26d8c"></div>
<div class="gl" style="left:202.33px;width:1.05px;background:#a26d8c"></div>
<div class="gl" style="left:225.44px;width:1.05px;background:#a26d8c"></div>
<div class="gl" style="left:248.55px;width:1.05px;background:#a26d8c"></div>
<div class="gl" style="left:271.66px;width:1.05px;background:#a26d8c"></div>
<div class="gl" style="left:294.77px;width:1.05px;background:#a26d8c"></div>
<div class="gl" style="left:317.88px;width:1.05px;background:#a26d8c"></div>
<div class="gl" style="left:340.99px;width:1.05px;background:#a26d8c"></div>
<div class="gl" style="left:364.10px;width:1.05px;background:#a26d8c"></div>
<div class="gl" style="left:387.21px;width:1.05px;background:#a26d8c"></div>
<div class="gl" style="left:410.32px;width:1.05px;background:#a26d8c"></div>
<div class="gl" style="left:433.43px;width:1.05px;background:#a26d8c"></div>
<div class="gl" style="left:456.54px;width:1.05px;background:#a26d8c"></div>
<div class="gl" style="left:479.65px;width:1.05px;background:#a26d8c"></div>
<div class="gl" style="left:502.76px;width:1.05px;background:#a26d8c"></div>
<div class="gl" style="left:525.87px;width:1.05px;background:#a26d8c"></div>
<div class="gl" style="left:548.98px;width:1.05px;background:#a26d8c"></div>
<div class="gl" style="left:572.09px;width:1.05px;background:#a26d8c"></div>
<div class="gl" style="left:595.20px;width:1.05px;background:#a26d8c"></div>
<div class="gl" style="left:618.31px;width:1.05px;background:#a26d8c"></div>
<div class="gl" style="left:641.42px;width:1.05px;background:#a26d8c"></div>
<div class="gl" style="left:664.53px;width:1.05px;background:#a26d8c"></div>
<div class="gl" style="left:687.64px;width:1.05px;background:#a26d8c"></div>
<div class="gl" style="left:710.75px;width:1.05px;background:#a26d8c"></div>
<div class="gl" style="left:733.86px;width:1.05px;background:#a26d8c"></div>
<div class="gl" style="left:756.97px;width:1.05px;background:#a26d8c"></div>
<div class="gl" style="left:780.08px;width:1.05px;background:#a26d8c"></div>
<div class="gl" style="left:803.19px;width:1.05px;background:#a26d8c"></div>
<div class="gl" style="left:826.30px;width:1.05px;background:#a26d8c"></div>
<div class="gl" style="left:849.41px;width:1.05px;background:#a26d8c"></div>
<div class="gl" style="left:872.52px;width:1.05px;background:#a26d8c"></div>
<div class="gl" style="left:895.63px;width:1.05px;background:#a26d8c"></div>
<div class="gl" style="left:918.74px;width:1.05px;background:#a26d8c"></div>
<div class="gl" style="left:941.85px;width:1.05px;background:#a26d8c"></div>
<div class="gl" style="left:964.96px;width:1.05px;background:#a26d8c"></div>
<div class="gl" style="left:988.07px;width:1.05px;background:#a26d8c"></div>
<div class="gl" style="left:1011.18px;width:1.05px;background:#a26d8c"></div>
<div class="gl" style="left:1034.29px;width:1.05px;background:#a26d8c"></div>
<div class="gl" style="left:1057.40px;width:1.05px;background:#a26d8c"></div>
<div class="gl" style="left:1080.51px;width:1.05px;background:#a26d8c"></div>
<div class="lab" style="background:linear-gradient(90deg,#c58ba8,#bf86a3);border-right:1px solid #a26d8c"><span style="color:#2b2b2b;letter-spacing:-0.057px">First Respond...</span></div>
</div>
<div class="sec" style="top:456.7px;height:79.6px;background:#89b0a5">
<div class="gl" style="left:40.56px;width:1.05px;background:#639787"></div>
<div class="gl" style="left:63.67px;width:1.05px;background:#639787"></div>
<div class="gl" style="left:86.78px;width:1.05px;background:#639787"></div>
<div class="gl" style="left:109.89px;width:1.05px;background:#639787"></div>
<div class="gl" style="left:133.00px;width:1.05px;background:#639787"></div>
<div class="gl" style="left:156.11px;width:1.05px;background:#639787"></div>
<div class="gl" style="left:179.22px;width:1.05px;background:#639787"></div>
<div class="gl" style="left:202.33px;width:1.05px;background:#639787"></div>
<div class="gl" style="left:225.44px;width:1.05px;background:#639787"></div>
<div class="gl" style="left:248.55px;width:1.05px;background:#639787"></div>
<div class="gl" style="left:271.66px;width:1.05px;background:#639787"></div>
<div class="gl" style="left:294.77px;width:1.05px;background:#639787"></div>
<div class="gl" style="left:317.88px;width:1.05px;background:#639787"></div>
<div class="gl" style="left:340.99px;width:1.05px;background:#639787"></div>
<div class="gl" style="left:364.10px;width:1.05px;background:#639787"></div>
<div class="gl" style="left:387.21px;width:1.05px;background:#639787"></div>
<div class="gl" style="left:410.32px;width:1.05px;background:#639787"></div>
<div class="gl" style="left:433.43px;width:1.05px;background:#639787"></div>
<div class="gl" style="left:456.54px;width:1.05px;background:#639787"></div>
<div class="gl" style="left:479.65px;width:1.05px;background:#639787"></div>
<div class="gl" style="left:502.76px;width:1.05px;background:#639787"></div>
<div class="gl" style="left:525.87px;width:1.05px;background:#639787"></div>
<div class="gl" style="left:548.98px;width:1.05px;background:#639787"></div>
<div class="gl" style="left:572.09px;width:1.05px;background:#639787"></div>
<div class="gl" style="left:595.20px;width:1.05px;background:#639787"></div>
<div class="gl" style="left:618.31px;width:1.05px;background:#639787"></div>
<div class="gl" style="left:641.42px;width:1.05px;background:#639787"></div>
<div class="gl" style="left:664.53px;width:1.05px;background:#639787"></div>
<div class="gl" style="left:687.64px;width:1.05px;background:#639787"></div>
<div class="gl" style="left:710.75px;width:1.05px;background:#639787"></div>
<div class="gl" style="left:733.86px;width:1.05px;background:#639787"></div>
<div class="gl" style="left:756.97px;width:1.05px;background:#639787"></div>
<div class="gl" style="left:780.08px;width:1.05px;background:#639787"></div>
<div class="gl" style="left:803.19px;width:1.05px;background:#639787"></div>
<div class="gl" style="left:826.30px;width:1.05px;background:#639787"></div>
<div class="gl" style="left:849.41px;width:1.05px;background:#639787"></div>
<div class="gl" style="left:872.52px;width:1.05px;background:#639787"></div>
<div class="gl" style="left:895.63px;width:1.05px;background:#639787"></div>
<div class="gl" style="left:918.74px;width:1.05px;background:#639787"></div>
<div class="gl" style="left:941.85px;width:1.05px;background:#639787"></div>
<div class="gl" style="left:964.96px;width:1.05px;background:#639787"></div>
<div class="gl" style="left:988.07px;width:1.05px;background:#639787"></div>
<div class="gl" style="left:1011.18px;width:1.05px;background:#639787"></div>
<div class="gl" style="left:1034.29px;width:1.05px;background:#639787"></div>
<div class="gl" style="left:1057.40px;width:1.05px;background:#639787"></div>
<div class="gl" style="left:1080.51px;width:1.05px;background:#639787"></div>
<div class="lab" style="background:linear-gradient(90deg,#8bb3a8,#89b0a5);border-right:1px solid #639787"><span style="color:#2b2b2b;letter-spacing:0.046px">Fire Preventio...</span></div>
</div>
<div class="sec" style="top:539.2px;height:79.3px;background:#f7b47f">
<div class="gl" style="left:40.56px;width:1.05px;background:#dc965e"></div>
<div class="gl" style="left:63.67px;width:1.05px;background:#dc965e"></div>
<div class="gl" style="left:86.78px;width:1.05px;background:#dc965e"></div>
<div class="gl" style="left:109.89px;width:1.05px;background:#dc965e"></div>
<div class="gl" style="left:133.00px;width:1.05px;background:#dc965e"></div>
<div class="gl" style="left:156.11px;width:1.05px;background:#dc965e"></div>
<div class="gl" style="left:179.22px;width:1.05px;background:#dc965e"></div>
<div class="gl" style="left:202.33px;width:1.05px;background:#dc965e"></div>
<div class="gl" style="left:225.44px;width:1.05px;background:#dc965e"></div>
<div class="gl" style="left:248.55px;width:1.05px;background:#dc965e"></div>
<div class="gl" style="left:271.66px;width:1.05px;background:#dc965e"></div>
<div class="gl" style="left:294.77px;width:1.05px;background:#dc965e"></div>
<div class="gl" style="left:317.88px;width:1.05px;background:#dc965e"></div>
<div class="gl" style="left:340.99px;width:1.05px;background:#dc965e"></div>
<div class="gl" style="left:364.10px;width:1.05px;background:#dc965e"></div>
<div class="gl" style="left:387.21px;width:1.05px;background:#dc965e"></div>
<div class="gl" style="left:410.32px;width:1.05px;background:#dc965e"></div>
<div class="gl" style="left:433.43px;width:1.05px;background:#dc965e"></div>
<div class="gl" style="left:456.54px;width:1.05px;background:#dc965e"></div>
<div class="gl" style="left:479.65px;width:1.05px;background:#dc965e"></div>
<div class="gl" style="left:502.76px;width:1.05px;background:#dc965e"></div>
<div class="gl" style="left:525.87px;width:1.05px;background:#dc965e"></div>
<div class="gl" style="left:548.98px;width:1.05px;background:#dc965e"></div>
<div class="gl" style="left:572.09px;width:1.05px;background:#dc965e"></div>
<div class="gl" style="left:595.20px;width:1.05px;background:#dc965e"></div>
<div class="gl" style="left:618.31px;width:1.05px;background:#dc965e"></div>
<div class="gl" style="left:641.42px;width:1.05px;background:#dc965e"></div>
<div class="gl" style="left:664.53px;width:1.05px;background:#dc965e"></div>
<div class="gl" style="left:687.64px;width:1.05px;background:#dc965e"></div>
<div class="gl" style="left:710.75px;width:1.05px;background:#dc965e"></div>
<div class="gl" style="left:733.86px;width:1.05px;background:#dc965e"></div>
<div class="gl" style="left:756.97px;width:1.05px;background:#dc965e"></div>
<div class="gl" style="left:780.08px;width:1.05px;background:#dc965e"></div>
<div class="gl" style="left:803.19px;width:1.05px;background:#dc965e"></div>
<div class="gl" style="left:826.30px;width:1.05px;background:#dc965e"></div>
<div class="gl" style="left:849.41px;width:1.05px;background:#dc965e"></div>
<div class="gl" style="left:872.52px;width:1.05px;background:#dc965e"></div>
<div class="gl" style="left:895.63px;width:1.05px;background:#dc965e"></div>
<div class="gl" style="left:918.74px;width:1.05px;background:#dc965e"></div>
<div class="gl" style="left:941.85px;width:1.05px;background:#dc965e"></div>
<div class="gl" style="left:964.96px;width:1.05px;background:#dc965e"></div>
<div class="gl" style="left:988.07px;width:1.05px;background:#dc965e"></div>
<div class="gl" style="left:1011.18px;width:1.05px;background:#dc965e"></div>
<div class="gl" style="left:1034.29px;width:1.05px;background:#dc965e"></div>
<div class="gl" style="left:1057.40px;width:1.05px;background:#dc965e"></div>
<div class="gl" style="left:1080.51px;width:1.05px;background:#dc965e"></div>
<div class="lab" style="background:linear-gradient(90deg,#fbb982,#f7b47f);border-right:1px solid #dc965e"><span style="color:#2b2b2b;letter-spacing:-0.005px">Firemen</span></div>
</div>
<div id="today"></div>
<div class="abs" style="left:0;top:126.3px;width:1084px;height:0.95px;background:#c6c6c6"></div>
<div class="bar" style="left:19.15px;top:47.60px;width:830.85px;height:16.5px"><span class="l"><svg class="ar" width="8" height="7" viewBox="0 0 8 7" style="overflow:visible"><polygon points="0,3.5 3.7,-0.2 3.7,1.5 7.7,1.5 7.7,5.5 3.7,5.5 3.7,7.2" fill="#333"/><polygon points="1.6,3.5 3.2,1.9 3.2,2.6 6.6,2.6 6.6,3.6 3.2,3.6" fill="#8a8a8a"/></svg>Von 1. Jan 03</span><span class="c"><span style="letter-spacing:-0.173px">WSO - Merk, Joachim (LO, Fleet)</span></span></div>
<div class="bar" style="left:19.15px;top:66.00px;width:830.85px;height:16.5px"><span class="l"><svg class="ar" width="8" height="7" viewBox="0 0 8 7" style="overflow:visible"><polygon points="0,3.5 3.7,-0.2 3.7,1.5 7.7,1.5 7.7,5.5 3.7,5.5 3.7,7.2" fill="#333"/><polygon points="1.6,3.5 3.2,1.9 3.2,2.6 6.6,2.6 6.6,3.6 3.2,3.6" fill="#8a8a8a"/></svg>Von 1. Jan 13</span><span class="c"><span style="letter-spacing:-0.167px">WSO - Merk, Joachim (LO, Warehouse)</span></span></div>
<div class="bar" style="left:19.15px;top:84.40px;width:553.45px;height:16.5px"><span class="l"><svg class="ar" width="8" height="7" viewBox="0 0 8 7" style="overflow:visible"><polygon points="0,3.5 3.7,-0.2 3.7,1.5 7.7,1.5 7.7,5.5 3.7,5.5 3.7,7.2" fill="#333"/><polygon points="1.6,3.5 3.2,1.9 3.2,2.6 6.6,2.6 6.6,3.6 3.2,3.6" fill="#8a8a8a"/></svg>Von 1. Jan 13</span><span class="c"><span style="letter-spacing:-0.112px">WSO - Wolf, Viktor (PR, Production)</span></span></div>
<div class="bar" style="left:19.15px;top:102.80px;width:553.45px;height:16.5px"><span class="l"><svg class="ar" width="8" height="7" viewBox="0 0 8 7" style="overflow:visible"><polygon points="0,3.5 3.7,-0.2 3.7,1.5 7.7,1.5 7.7,5.5 3.7,5.5 3.7,7.2" fill="#333"/><polygon points="1.6,3.5 3.2,1.9 3.2,2.6 6.6,2.6 6.6,3.6 3.2,3.6" fill="#8a8a8a"/></svg>Von 1. Jan 13</span><span class="c"><span style="letter-spacing:-0.134px">WSO - Wolf, Viktor (PR, Operations Preparation)</span></span></div>
<div class="bar" style="left:19.15px;top:129.40px;width:830.85px;height:16.5px"><span class="l"><svg class="ar" width="8" height="7" viewBox="0 0 8 7" style="overflow:visible"><polygon points="0,3.5 3.7,-0.2 3.7,1.5 7.7,1.5 7.7,5.5 3.7,5.5 3.7,7.2" fill="#333"/><polygon points="1.6,3.5 3.2,1.9 3.2,2.6 6.6,2.6 6.6,3.6 3.2,3.6" fill="#8a8a8a"/></svg>Von 1. Jan 12</span><span class="c"><span style="letter-spacing:0.047px">DPO - Ahrens, Artjom (-, -)</span></span></div>
<div class="bar" style="left:411.00px;top:147.30px;width:115.40px;height:16.5px"><span class="c left"><span style="letter-spacing:0.0px">DPO - Langbein, Klaus-Peter</span></span></div>
<div class="bar" style="left:19.15px;top:211.90px;width:114.25px;height:16.5px"><span class="l"><svg class="ar" width="8" height="7" viewBox="0 0 8 7" style="overflow:visible"><polygon points="0,3.5 3.7,-0.2 3.7,1.5 7.7,1.5 7.7,5.5 3.7,5.5 3.7,7.2" fill="#333"/><polygon points="1.6,3.5 3.2,1.9 3.2,2.6 6.6,2.6 6.6,3.6 3.2,3.6" fill="#8a8a8a"/></svg></span><span class="c left" style="padding-left:0"><span style="letter-spacing:-0.018px">ASO - Drax, Merve (-, -)</span></span></div>
<div class="bar" style="left:133.40px;top:211.90px;width:277.40px;height:16.5px"><span class="c"><span style="letter-spacing:-0.018px">ASO - Drax, Merve (-, -)</span></span></div>
<div class="bar" style="left:410.80px;top:211.90px;width:277.00px;height:16.5px"><span class="c"><span style="letter-spacing:-0.018px">ASO - Drax, Merve (-, -)</span></span></div>
<div class="bar" style="left:19.15px;top:230.20px;width:483.65px;height:16.5px"><span class="l"><svg class="ar" width="8" height="7" viewBox="0 0 8 7" style="overflow:visible"><polygon points="0,3.5 3.7,-0.2 3.7,1.5 7.7,1.5 7.7,5.5 3.7,5.5 3.7,7.2" fill="#333"/><polygon points="1.6,3.5 3.2,1.9 3.2,2.6 6.6,2.6 6.6,3.6 3.2,3.6" fill="#8a8a8a"/></svg>Von 1. Aug 13</span><span class="c"><span style="letter-spacing:-0.344px">ASO - Geißen, Chuck</span><span class="gp"></span><span style="letter-spacing:-0.201px">(PU, Purchasing)</span></span></div>
<div class="bar" style="left:480.40px;top:248.50px;width:22.40px;height:16.5px"><span class="c left">ASO - x</span></div>
<div class="bar" style="left:19.15px;top:294.00px;width:1066.85px;height:16.5px"><span class="l"><svg class="ar" width="8" height="7" viewBox="0 0 8 7" style="overflow:visible"><polygon points="0,3.5 3.7,-0.2 3.7,1.5 7.7,1.5 7.7,5.5 3.7,5.5 3.7,7.2" fill="#333"/><polygon points="1.6,3.5 3.2,1.9 3.2,2.6 6.6,2.6 6.6,3.6 3.2,3.6" fill="#8a8a8a"/></svg>Von 31. Dez 12</span><span class="c"><span style="letter-spacing:-0.209px">DGO - Merk, Joachim (LO, Warehouse)</span></span><span class="r">bis 31. Dez<svg class="ar" width="8" height="7" viewBox="0 0 8 7" style="overflow:visible"><polygon points="7.7,3.5 4,-0.2 4,1.5 0,1.5 0,5.5 4,5.5 4,7.2" fill="#333"/><polygon points="6,3.5 4.4,1.9 4.4,2.6 1,2.6 1,3.6 4.4,3.6" fill="#8a8a8a"/></svg></span></div>
<div class="bar" style="left:19.15px;top:312.40px;width:853.05px;height:16.5px"><span class="l"><svg class="ar" width="8" height="7" viewBox="0 0 8 7" style="overflow:visible"><polygon points="0,3.5 3.7,-0.2 3.7,1.5 7.7,1.5 7.7,5.5 3.7,5.5 3.7,7.2" fill="#333"/><polygon points="1.6,3.5 3.2,1.9 3.2,2.6 6.6,2.6 6.6,3.6 3.2,3.6" fill="#8a8a8a"/></svg>Von 31. Dez 12</span><span class="c"><span style="letter-spacing:-0.208px">DGO - Merk, Joachim (LO, Fleet)</span></span></div>
<div class="bar" style="left:180.00px;top:376.80px;width:276.80px;height:16.5px"><span class="c"><span style="letter-spacing:-0.162px">FRS - Merk, Joachim (LO, Warehouse)</span></span></div>
<div class="bar" style="left:180.00px;top:395.00px;width:276.80px;height:16.5px"><span class="c"><span style="letter-spacing:-0.161px">FRS - Merk, Joachim (LO, Fleet)</span></span></div>
<div class="bar" style="left:272.60px;top:458.70px;width:554.00px;height:16.5px"><span class="c"><span style="letter-spacing:-0.344px">FPO - Geißen, Chuck</span><span class="gp"></span><span style="letter-spacing:-0.201px">(PU, Purchasing)</span></span></div>
</div>
<div id="hs"><svg width="8" height="10" viewBox="0 0 8 10" style="position:absolute;left:1.4px;top:1.3px"><polygon points="0.3,5 4.4,1.4 4.4,8.6" fill="#f2f2f2"/></svg><svg width="8" height="10" viewBox="0 0 8 10" style="position:absolute;left:1075.5px;top:1.3px"><polygon points="5.2,5 0.9,1.4 0.9,8.6" fill="#f2f2f2"/></svg></div>
<div id="hthumb"><div class="abs" style="left:71.3px;top:2.6px;width:6.4px;height:6.5px;background:repeating-linear-gradient(90deg,#909090 0,#909090 0.917px,#d4d4d4 0.917px,#d4d4d4 1.833px)"></div></div>
<div id="vs"><div class="vbtn" style="top:0;height:12.5px"><svg width="11" height="10" viewBox="0 0 11 10" style="position:absolute;left:0;top:0"><polygon points="5.6,2.0 9.4,6.0 1.8,6.0" fill="#e8e8e8"/></svg></div><div id="vthumb"><div id="vgrip"></div></div><div class="vbtn" style="top:499.5px;height:14.5px"><svg width="11" height="12" viewBox="0 0 11 12" style="position:absolute;left:0;top:0"><polygon points="5.6,9.2 9.6,4.4 1.6,4.4" fill="#f0f0f0"/></svg></div></div>
<div id="tools"><svg width="13.2" height="104.5" viewBox="0 0 13.2 104.5" style="position:absolute;left:0;top:0"><rect x="3.4000000000000004" y="4.2000000000000455" width="6" height="1.1" fill="#868686"/><polygon points="6.4,5.2999999999999545 9.4,8.299999999999955 3.4000000000000004,8.299999999999955" fill="#868686"/><polygon points="6.4,8.299999999999955 9.4,11.299999999999955 3.4000000000000004,11.299999999999955" fill="#868686"/><polygon points="6.4,16.100000000000023 9.4,19.100000000000023 3.4000000000000004,19.100000000000023" fill="#868686"/><polygon points="6.4,19.299999999999955 9.4,22.299999999999955 3.4000000000000004,22.299999999999955" fill="#868686"/><polygon points="6.4,31.199999999999953 9.4,34.399999999999956 3.4000000000000004,34.399999999999956" fill="#868686"/><polygon points="6.4,47.80000000000005 9.4,44.600000000000044 3.4000000000000004,44.600000000000044" fill="#868686"/><polygon points="6.4,58.89999999999998 9.4,55.89999999999998 3.4000000000000004,55.89999999999998" fill="#868686"/><polygon points="6.4,62.10000000000002 9.4,59.10000000000002 3.4000000000000004,59.10000000000002" fill="#868686"/><polygon points="6.4,71.5 9.4,68.5 3.4000000000000004,68.5" fill="#868686"/><polygon points="6.4,74.5 9.4,71.5 3.4000000000000004,71.5" fill="#868686"/><rect x="3.4000000000000004" y="74.60000000000002" width="6" height="1.1" fill="#868686"/><rect x="3.6000000000000005" y="84.0" width="5.6" height="1.3" fill="#7a7a7a"/><rect x="5.75" y="81.79999999999995" width="1.3" height="5.6" fill="#7a7a7a"/><rect x="3.6000000000000005" y="96.60000000000002" width="5.6" height="1.6" fill="#555"/></svg></div>
</div>
</body></html>
